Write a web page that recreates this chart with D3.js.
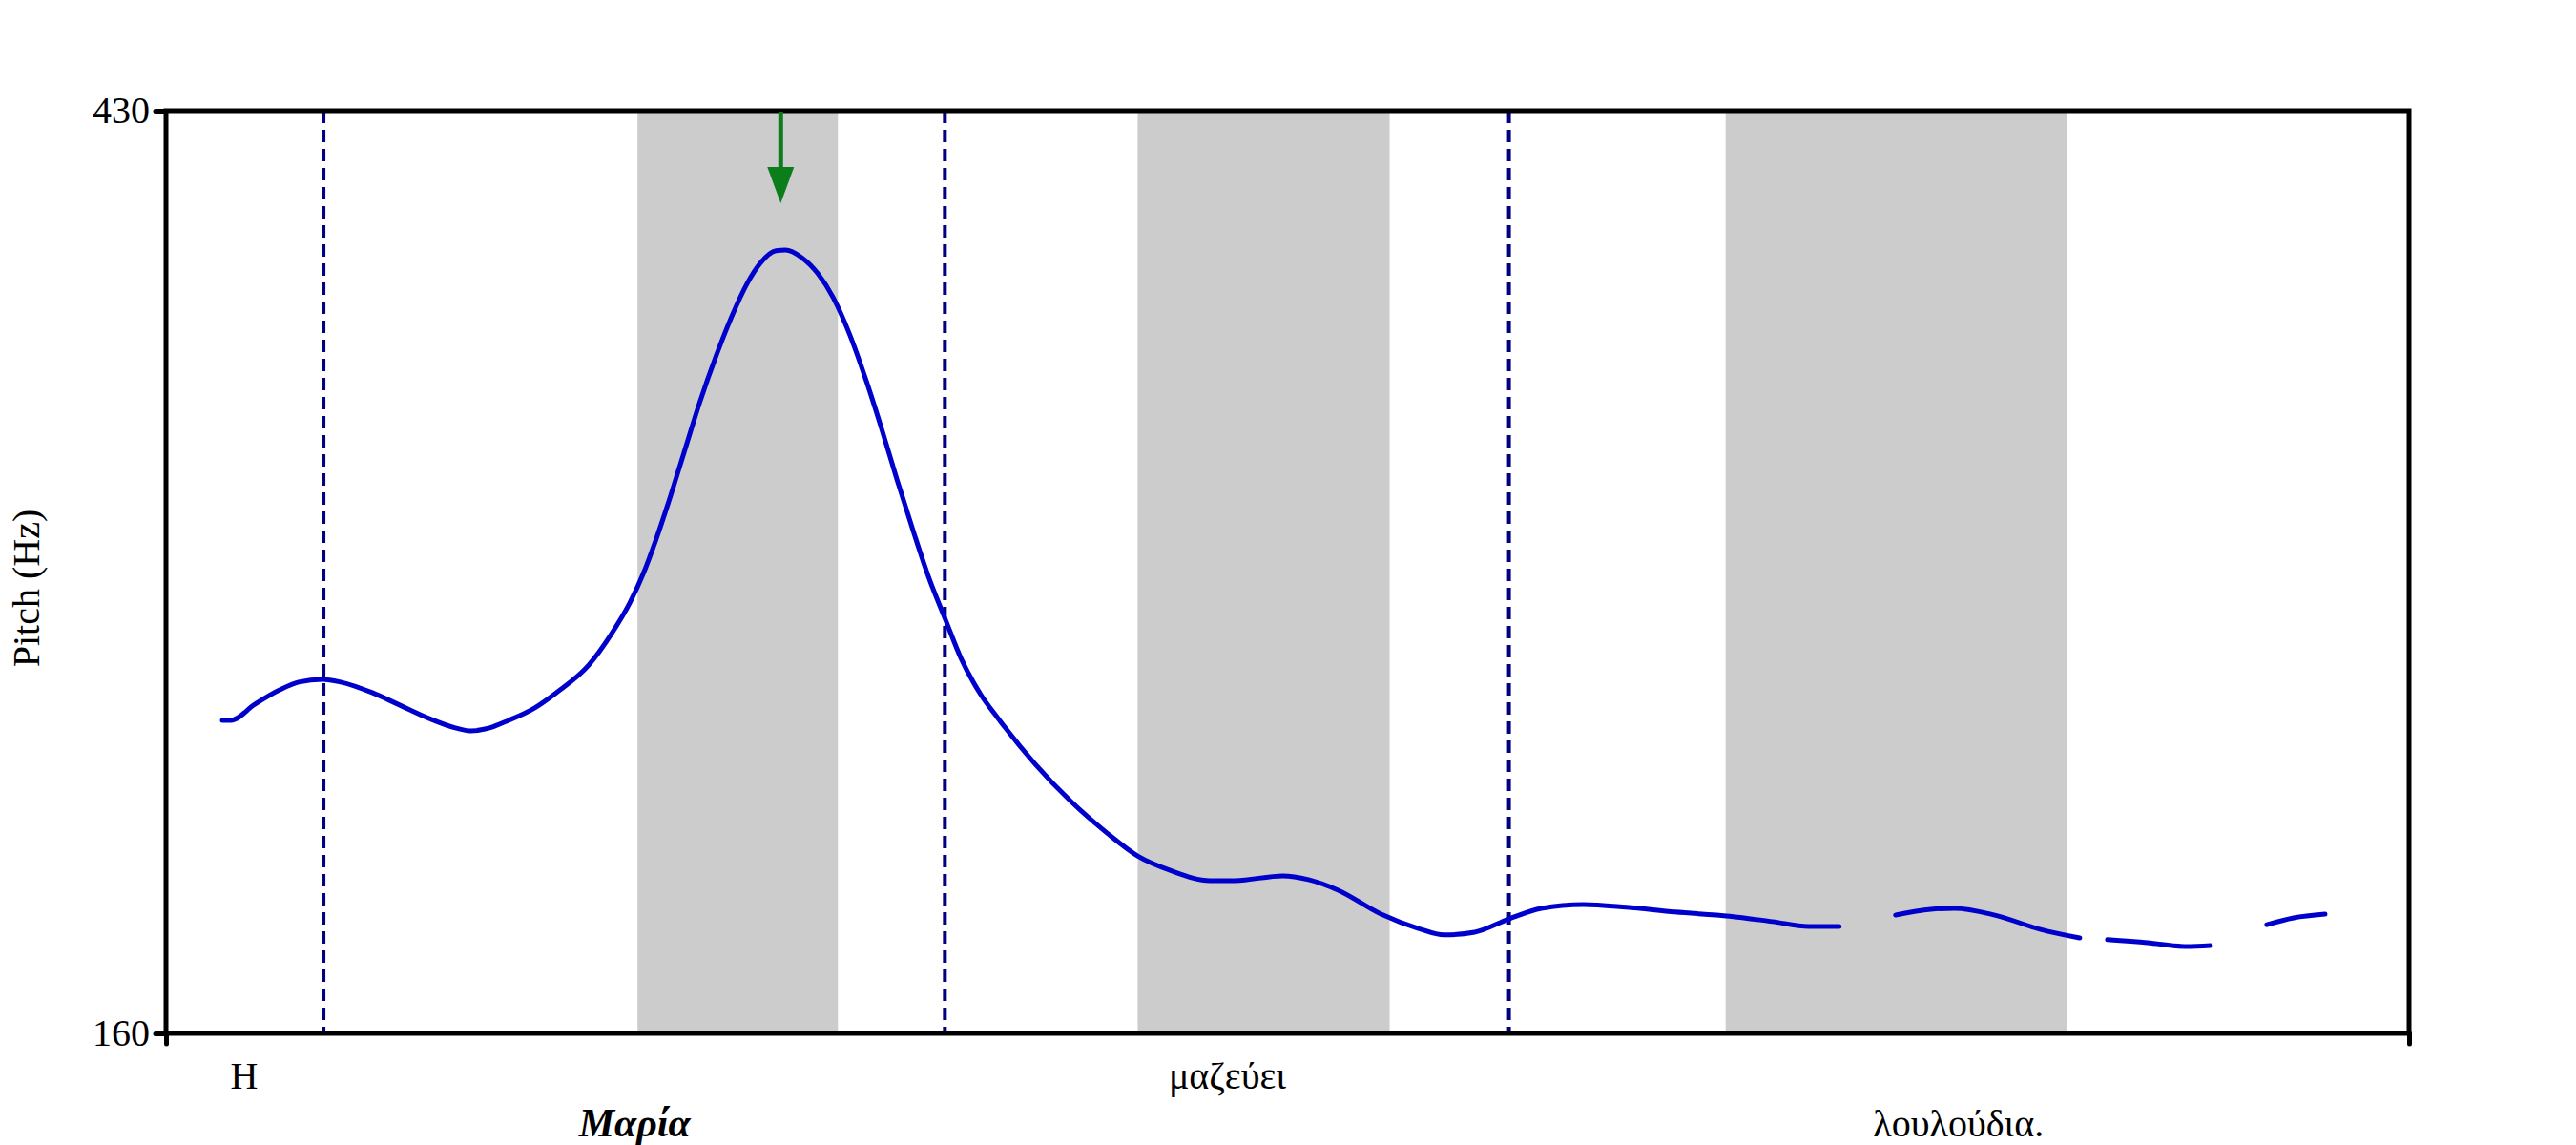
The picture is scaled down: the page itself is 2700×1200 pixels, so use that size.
<!DOCTYPE html>
<html>
<head>
<meta charset="utf-8">
<script src="https://cdn.jsdelivr.net/npm/d3@7"></script>
<style>
  html, body { margin: 0; padding: 0; background: #ffffff; }
  svg { display: block; }
  text { font-family: "Liberation Serif", "Times New Roman", serif; fill: #000; }
</style>
</head>
<body>
<svg id="chart" width="2700" height="1200"></svg>
<script>
// ---------------- data ----------------
const yTicks = [160, 430];
const timeDomain = [0, 2.35];
const pitchDomain = [160, 430];

// pitch contour segments: [time (s), pitch (Hz)]
const segment1 = [
  [0.059, 251.6], [0.068, 251.6], [0.093, 256.3], [0.119, 260.5], [0.139, 262.8],
  [0.164, 263.6], [0.183, 262.8], [0.216, 259.7], [0.243, 256.3], [0.276, 252.1],
  [0.303, 249.4], [0.319, 248.5], [0.339, 249.4], [0.359, 251.6], [0.386, 255.2],
  [0.409, 259.7], [0.443, 267.8], [0.466, 276.6], [0.486, 286.0], [0.500, 294.5],
  [0.513, 304.2], [0.526, 315.0], [0.543, 330.2], [0.559, 344.5], [0.576, 358.0],
  [0.593, 370.0], [0.609, 379.5], [0.623, 385.5], [0.639, 389.0], [0.649, 389.2],
  [0.666, 387.0], [0.683, 382.3], [0.699, 375.3], [0.716, 364.7], [0.733, 351.5],
  [0.749, 337.6], [0.766, 321.9], [0.783, 306.9], [0.799, 293.5], [0.816, 281.5],
  [0.833, 269.7], [0.853, 259.4], [0.872, 252.1], [0.910, 239.0], [0.948, 227.9],
  [0.986, 218.6], [1.018, 211.9], [1.052, 207.7], [1.094, 204.7], [1.120, 204.7],
  [1.170, 206.1], [1.197, 205.0], [1.228, 201.9], [1.273, 194.9], [1.312, 190.7],
  [1.339, 188.8], [1.371, 189.6], [1.407, 193.5], [1.441, 196.6], [1.485, 197.7],
  [1.530, 196.9], [1.581, 195.5], [1.638, 194.3], [1.683, 192.7], [1.721, 191.3],
  [1.753, 191.3]
];
const segment2 = [
  [1.812, 194.6], [1.849, 196.3], [1.874, 196.6], [1.916, 194.6], [1.964, 190.4], [2.005, 187.9]
];
const segment3 = [
  [2.034, 187.4], [2.076, 186.5], [2.117, 185.4], [2.142, 185.7]
];
const segment4 = [
  [2.201, 191.8], [2.229, 193.8], [2.262, 194.9]
];
const segments = [segment1, segment2, segment3, segment4];

// shaded (stressed syllable) intervals
const shadeStarts = [0.494, 1.018, 1.634];
const shadeEnds   = [0.704, 1.282, 1.992];

// word boundaries (dashed)
const boundaries = [0.165, 0.816, 1.407];

// word labels
const words      = ["Η", "Μαρία", "μαζεύει", "λουλούδια."];
const wordTimes  = [0.082, 0.491, 1.112, 1.878];
const wordRows   = [0, 1, 0, 1];
const wordFocus  = [false, true, false, false];

// peak arrow
const arrowTime = 0.644;

// ---------------- layout ----------------
const margin = { left: 174, right: 2525, top: 116, bottom: 1083 };
const svg = d3.select("#chart");

const x = d3.scaleLinear().domain(timeDomain).range([margin.left, margin.right]);
const y = d3.scaleLinear().domain(pitchDomain).range([margin.bottom, margin.top]);

// shaded regions
svg.append("g").selectAll("rect")
  .data(shadeStarts.map((s, i) => [s, shadeEnds[i]]))
  .join("rect")
  .attr("x", d => x(d[0]))
  .attr("y", y(pitchDomain[1]))
  .attr("width", d => x(d[1]) - x(d[0]))
  .attr("height", y(pitchDomain[0]) - y(pitchDomain[1]))
  .attr("fill", "#cccccc");

// word boundaries
svg.append("g").selectAll("line")
  .data(boundaries)
  .join("line")
  .attr("x1", d => x(d)).attr("x2", d => x(d))
  .attr("y1", y(pitchDomain[1])).attr("y2", y(pitchDomain[0]))
  .attr("stroke", "#000080")
  .attr("stroke-width", 4)
  .attr("stroke-dasharray", "13 7");

// pitch contour
const line = d3.line()
  .x(d => x(d[0]))
  .y(d => y(d[1]))
  .curve(d3.curveMonotoneX);

svg.append("g").selectAll("path")
  .data(segments)
  .join("path")
  .attr("d", line)
  .attr("fill", "none")
  .attr("stroke", "#0000cc")
  .attr("stroke-width", 5)
  .attr("stroke-linecap", "round")
  .attr("stroke-linejoin", "round");

// frame
svg.append("rect")
  .attr("x", margin.left).attr("y", margin.top)
  .attr("width", margin.right - margin.left)
  .attr("height", margin.bottom - margin.top)
  .attr("fill", "none")
  .attr("stroke", "#000")
  .attr("stroke-width", 5);

// left axis
const yAxis = d3.axisLeft(y).tickValues(yTicks).tickSize(11).tickPadding(6).tickFormat(d3.format("d"));
const gy = svg.append("g").attr("transform", `translate(${margin.left},0)`).call(yAxis);
gy.select(".domain").remove();
gy.selectAll(".tick line").attr("stroke", "#000").attr("stroke-width", 5).attr("stroke-linecap", "round");
gy.selectAll(".tick text")
  .attr("font-family", "Liberation Serif, Times New Roman, serif")
  .attr("font-size", 40).attr("fill", "#000");

// bottom end ticks
const xAxis = d3.axisBottom(x).tickValues(timeDomain).tickSize(11).tickFormat("");
const gx = svg.append("g").attr("transform", `translate(0,${margin.bottom})`).call(xAxis);
gx.select(".domain").remove();
gx.selectAll(".tick line").attr("stroke", "#000").attr("stroke-width", 5).attr("stroke-linecap", "round");

// y axis title
svg.append("text")
  .attr("transform", `translate(41,${(margin.top + margin.bottom) / 2 + 17}) rotate(-90)`)
  .attr("text-anchor", "middle")
  .attr("font-size", 40)
  .text("Pitch (Hz)");

// word labels
svg.append("g").selectAll("text")
  .data(words.map((w, i) => ({ w, t: wordTimes[i], row: wordRows[i], focus: wordFocus[i] })))
  .join("text")
  .attr("x", d => x(d.t))
  .attr("y", d => d.row === 0 ? 1141 : 1191)
  .attr("text-anchor", "middle")
  .attr("font-size", d => d.focus ? 42 : 40)
  .attr("font-weight", d => d.focus ? "bold" : "normal")
  .attr("font-style", d => d.focus ? "italic" : "normal")
  .text(d => d.w);

// peak arrow
const ax = x(arrowTime);
const arrowColor = "#0b7d1b";
svg.append("line")
  .attr("x1", ax).attr("x2", ax)
  .attr("y1", margin.top + 1).attr("y2", 180)
  .attr("stroke", arrowColor).attr("stroke-width", 5);
svg.append("path")
  .attr("d", `M${ax - 14},175 L${ax + 14},175 L${ax},213 Z`)
  .attr("fill", arrowColor);
</script>
</body>
</html>
